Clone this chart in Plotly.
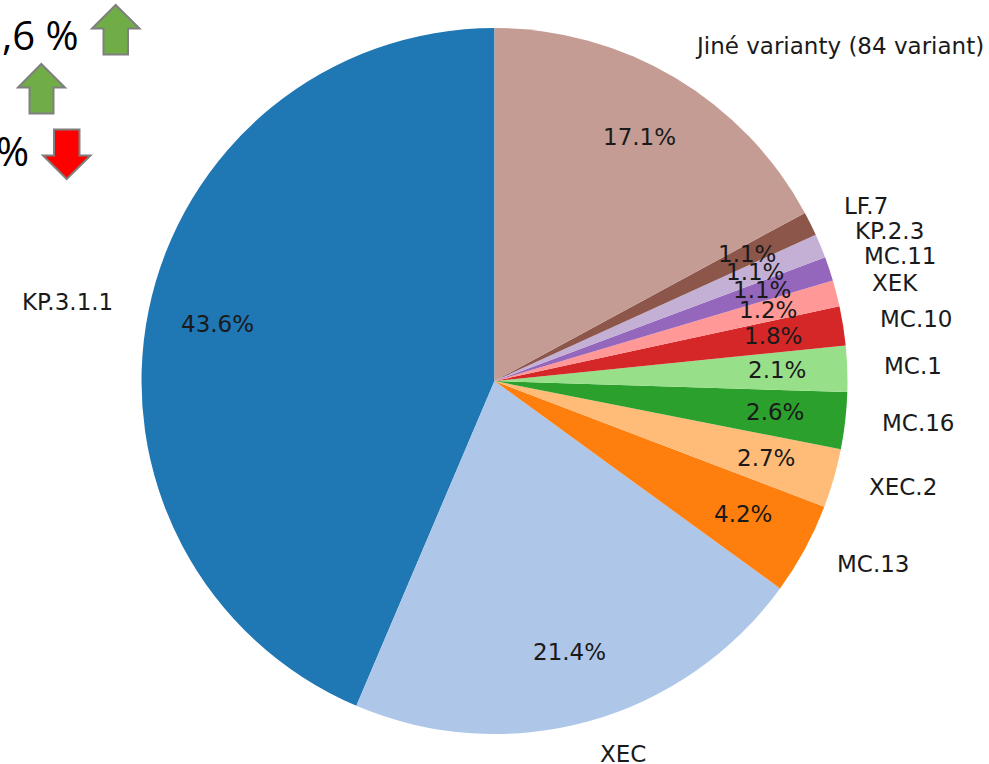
import math
import plotly.graph_objects as go

labels = ["KP.3.1.1", "XEC", "MC.13", "XEC.2", "MC.16", "MC.1", "MC.10", "XEK",
          "MC.11", "KP.2.3", "LF.7", "Jiné varianty (84 variant)"]
values = [43.6, 21.4, 4.2, 2.7, 2.6, 2.1, 1.8, 1.2, 1.1, 1.1, 1.1, 17.1]
colors = ["#1f77b4", "#aec7e8", "#ff7f0e", "#ffbb78", "#2ca02c", "#98df8a",
          "#d62728", "#ff9896", "#9467bd", "#c5b0d5", "#8c564b", "#c49c94"]

W, H = 989, 764
CX, CY, R = 494.5, 381, 353
FONT = "DejaVu Sans"
FS = 23
INK = "#1a1a1a"


def px(x):
    return x / W


def py(y):
    return 1 - y / H


annotations = []
total = sum(values)
cum = 0
for name, v in zip(labels, values):
    mid = math.radians(90 + 360 * (cum + v / 2) / total)
    cum += v
    cs, sn = math.cos(mid), math.sin(mid)
    annotations.append(dict(
        x=px(CX + 1.1 * R * cs + (1.5 if cs > 0 else -1)), y=py(CY - 1.1 * R * sn - 1.5), text=name,
        xref="paper", yref="paper", showarrow=False,
        xanchor="left" if cs > 0 else "right", yanchor="middle",
        font=dict(family=FONT, size=FS, color=INK), borderpad=0, borderwidth=0))
    annotations.append(dict(
        x=px(CX + 0.8 * R * cs), y=py(CY - 0.8 * R * sn - 1), text=f"{v:.1f}%",
        xref="paper", yref="paper", showarrow=False,
        xanchor="center", yanchor="middle",
        font=dict(family=FONT, size=FS, color=INK), borderpad=0, borderwidth=0))

for text, right, cy in [(",6 %", 79, 34), ("%", 29, 150)]:
    annotations.append(dict(
        x=px(right), y=py(cy), text=text, xref="paper", yref="paper",
        showarrow=False, xanchor="right", yanchor="middle",
        font=dict(family="Open Sans", size=40, color="#000000"),
        borderpad=0, borderwidth=0))


def arrow(pts, fill):
    d = "M " + " L ".join(f"{px(x):.5f},{py(y):.5f}" for x, y in pts) + " Z"
    return dict(type="path", path=d, xref="paper", yref="paper", fillcolor=fill,
                line=dict(color="#7f7f7f", width=2), layer="above")


shapes = [
    arrow([(115.7, 5), (139.5, 28.5), (128, 28.5), (128, 54.5), (103.5, 54.5), (103.5, 28.5), (92, 28.5)], "#70ad47"),
    arrow([(41.3, 64), (65, 87.5), (53.5, 87.5), (53.5, 113.5), (29.5, 113.5), (29.5, 87.5), (18, 87.5)], "#70ad47"),
    arrow([(66.7, 179), (90.5, 155.5), (79.5, 155.5), (79.5, 129.5), (54, 129.5), (54, 155.5), (43, 155.5)], "#ff0000"),
]

# plotly's counterclockwise layout ends the first slice at `rotation`
fig = go.Figure(go.Pie(
    labels=labels, values=values, sort=False, direction="counterclockwise",
    rotation=-360 * values[0] / total, textinfo="none", hoverinfo="label+percent",
    marker=dict(colors=colors, line=dict(width=0)),
    domain=dict(x=[px(CX - R), px(CX + R)], y=[py(CY + R), py(CY - R)]),
))
fig.update_layout(width=W, height=H, margin=dict(l=0, r=0, t=0, b=0),
                  showlegend=False, paper_bgcolor="white",
                  annotations=annotations, shapes=shapes)
fig.write_html("out.html", post_script="document.body.style.margin='0';",
               config=dict(displayModeBar=False))
